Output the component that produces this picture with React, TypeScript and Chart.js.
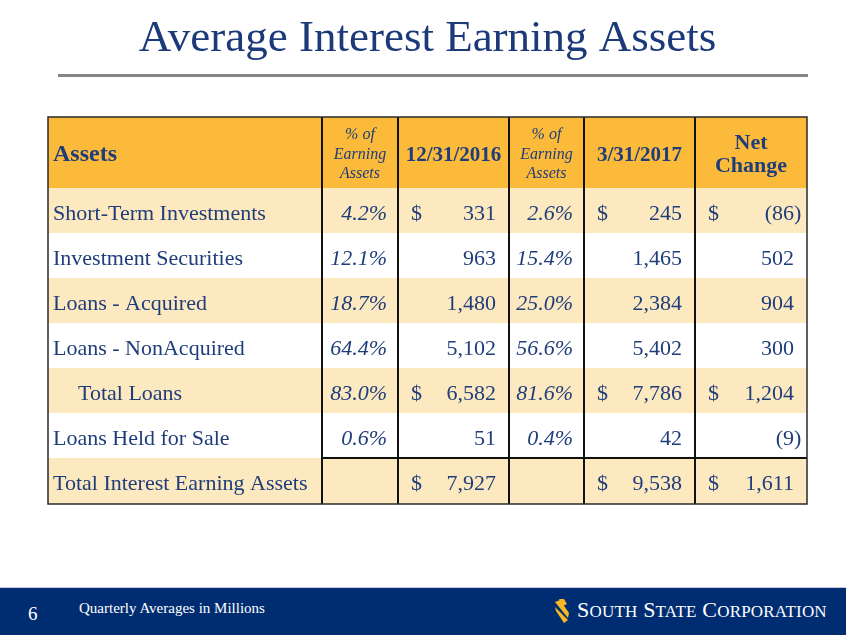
import React, { useEffect, useRef } from 'react';
import { Chart, registerables } from 'chart.js';

Chart.register(...registerables);

// ---------- data ----------
const titleText = 'Average Interest Earning Assets';
const columnHeaders = ['Assets', '% of\nEarning\nAssets', '12/31/2016', '% of\nEarning\nAssets', '3/31/2017', 'Net\nChange'];
const assetLabels = [
  'Short-Term Investments',
  'Investment Securities',
  'Loans - Acquired',
  'Loans - NonAcquired',
  'Total Loans',
  'Loans Held for Sale',
  'Total Interest Earning Assets',
];
const pct2016 = [4.2, 12.1, 18.7, 64.4, 83.0, 0.6, null];
const avg2016 = [331, 963, 1480, 5102, 6582, 51, 7927];
const pct2017 = [2.6, 15.4, 25.0, 56.6, 81.6, 0.4, null];
const avg2017 = [245, 1465, 2384, 5402, 7786, 42, 9538];
const netChange = [-86, 502, 904, 300, 1204, -9, 1611];
const dollarRows = [true, false, false, false, true, false, true];
const indentRows = [false, false, false, false, true, false, false];
const footnote = 'Quarterly Averages in Millions';
const pageNumber = '6';

// ---------- layout / style ----------
const COL_EDGES = [0, 274, 350, 461, 536, 647, 759];
const ROW_EDGES = [0, 71, 116, 161, 206, 251, 296, 341, 387];
const FONT = '"Liberation Serif", "Times New Roman", serif';
const TEXT = '#1f3d7b';
const ORANGE = '#fbba3a';
const CREAM = '#fde9bf';
const NAVY = '#002d72';

const fmtNum = (v: number) => Math.abs(v).toLocaleString('en-US');

const tablePlugin = {
  id: 'tablePlugin',
  afterDraw(chart: any) {
    const { ctx } = chart;
    const xs = chart.scales.x;
    const ys = chart.scales.y;
    const X = (v: number) => xs.getPixelForValue(v);
    const Y = (v: number) => ys.getPixelForValue(v);
    const nCols = COL_EDGES.length - 1;
    const L = X(COL_EDGES[0]);
    const R = X(COL_EDGES[nCols]);
    const T = Y(ROW_EDGES[0]);
    const B = Y(ROW_EDGES[ROW_EDGES.length - 1]);

    ctx.save();
    // backgrounds
    ctx.fillStyle = ORANGE;
    ctx.fillRect(L, T, R - L, Y(ROW_EDGES[1]) - T);
    assetLabels.forEach((_, i) => {
      const top = Y(ROW_EDGES[i + 1]);
      const bot = Y(ROW_EDGES[i + 2]);
      ctx.fillStyle = i % 2 === 0 ? CREAM : '#ffffff';
      ctx.fillRect(L, top, R - L, bot - top);
    });

    const font = (size: number, weight = 'normal', style = 'normal') =>
      `${style} ${weight} ${size}px ${FONT}`;
    const text = (s: string, x: number, y: number, align: CanvasTextAlign, f: string) => {
      ctx.font = f;
      ctx.textAlign = align;
      ctx.textBaseline = 'alphabetic';
      ctx.fillStyle = TEXT;
      ctx.fillText(s, x, y);
    };

    // header
    const hTop = Y(ROW_EDGES[0]);
    const colL = (c: number) => X(COL_EDGES[c]);
    const colR = (c: number) => X(COL_EDGES[c + 1]);
    const colC = (c: number) => (colL(c) + colR(c)) / 2;
    text(columnHeaders[0], colL(0) + 5, hTop + 44, 'left', font(24, 'bold'));
    [1, 3].forEach((c) => {
      columnHeaders[c].split('\n').forEach((line, k) => {
        text(line, colC(c), hTop + 22 + k * 19.5, 'center', font(16, 'normal', 'italic'));
      });
    });
    [2, 4].forEach((c) => {
      text(columnHeaders[c], colC(c), hTop + 43.5, 'center', font(21, 'bold'));
    });
    columnHeaders[5].split('\n').forEach((line, k) => {
      text(line, colC(5), hTop + 32 + k * 23, 'center', font(22, 'bold'));
    });

    // body rows
    const bodyFont = font(22);
    const pctFont = font(22, 'normal', 'italic');
    ctx.font = bodyFont;
    const parenW = ctx.measureText(')').width;
    assetLabels.forEach((label, i) => {
      const base = Y(ROW_EDGES[i + 1]) + 32;
      text(label, colL(0) + (indentRows[i] ? 30 : 5), base, 'left', bodyFont);
      const pcts = [pct2016[i], pct2017[i]];
      [1, 3].forEach((c, k) => {
        const p = pcts[k];
        if (p !== null && p !== undefined) text(p.toFixed(1) + '%', colR(c) - 11, base, 'right', pctFont);
      });
      const vals = [avg2016[i], avg2017[i], netChange[i]];
      [2, 4, 5].forEach((c, k) => {
        const v = vals[k];
        if (dollarRows[i]) text('$', colL(c) + 13, base, 'left', bodyFont);
        if (v < 0) text('(' + fmtNum(v) + ')', colR(c) - 13 + parenW, base, 'right', bodyFont);
        else text(fmtNum(v), colR(c) - 13, base, 'right', bodyFont);
      });
    });

    // grid lines
    ctx.strokeStyle = '#111111';
    ctx.lineWidth = 2;
    for (let c = 1; c < nCols; c++) {
      const x = Math.round(X(COL_EDGES[c]));
      ctx.beginPath();
      ctx.moveTo(x, T);
      ctx.lineTo(x, B);
      ctx.stroke();
    }
    const lastTop = Y(ROW_EDGES[ROW_EDGES.length - 2]);
    ctx.beginPath();
    ctx.moveTo(X(COL_EDGES[1]), lastTop);
    ctx.lineTo(R, lastTop);
    ctx.stroke();
    ctx.strokeStyle = '#2a2a2a';
    ctx.lineWidth = 1.5;
    ctx.strokeRect(L, T, R - L, B - T);
    ctx.restore();
  },
};

export default function App() {
  const canvasRef = useRef<HTMLCanvasElement>(null);

  useEffect(() => {
    if (!canvasRef.current) return;
    const chart = new Chart(canvasRef.current, {
      type: 'scatter',
      data: { datasets: [{ data: [] }] },
      options: {
        responsive: false,
        maintainAspectRatio: false,
        animation: false,
        events: [],
        layout: { padding: { left: 48, right: 39, top: 0, bottom: 131 } },
        scales: {
          x: { type: 'linear', min: COL_EDGES[0], max: COL_EDGES[COL_EDGES.length - 1], display: false },
          y: { type: 'linear', min: ROW_EDGES[0], max: ROW_EDGES[ROW_EDGES.length - 1], reverse: true, display: false },
        },
        plugins: {
          legend: { display: false },
          tooltip: { enabled: false },
          title: {
            display: true,
            text: titleText,
            color: '#1c3a7a',
            font: { family: FONT, size: 45, weight: 'normal', lineHeight: 1.2 },
            padding: { top: 12, bottom: 51 },
          },
        },
      },
      plugins: [tablePlugin],
    });
    return () => chart.destroy();
  }, []);

  return (
    <div style={{ position: 'absolute', left: 0, top: 0, width: 846, height: 635, background: '#ffffff', overflow: 'hidden' }}>
      <canvas ref={canvasRef} width={846} height={635} style={{ position: 'absolute', left: 0, top: 0, display: 'block' }} />
      <div style={{ position: 'absolute', left: 58, top: 74, width: 750, height: 3, background: '#858585' }} />
      <div style={{ position: 'absolute', left: 0, top: 587, width: 846, height: 1, background: '#c5cbdb' }} />
      <div style={{ position: 'absolute', left: 0, top: 588, width: 846, height: 47, background: NAVY }} />
      <div style={{ position: 'absolute', left: 28, top: 604, fontFamily: FONT, fontSize: 19, lineHeight: 1, color: '#ffffff' }}>{pageNumber}</div>
      <div style={{ position: 'absolute', left: 79, top: 601, fontFamily: FONT, fontSize: 15, lineHeight: 1, color: '#ffffff', whiteSpace: 'nowrap' }}>{footnote}</div>
      <svg style={{ position: 'absolute', left: 554, top: 599 }} width={16} height={24} viewBox="0 0 16 24">
        <path d="M5 0 L10 0 L13 5 L9 7 Z" fill="#f7b923" />
        <path d="M1 3 L6 1 L15 14 L14 19 Z" fill="#f7b923" />
        <path d="M1 8 L2 12 L10 24 L14 21 Z" fill="#f7b923" />
      </svg>
      <div style={{ position: 'absolute', left: 577, top: 599, fontFamily: FONT, fontSize: 22, lineHeight: '22px', color: '#ffffff', whiteSpace: 'nowrap', letterSpacing: 0.2 }}>
        <span>S</span><span style={{ fontSize: 17 }}>OUTH</span>{' '}
        <span>S</span><span style={{ fontSize: 17 }}>TATE</span>{' '}
        <span>C</span><span style={{ fontSize: 17 }}>ORPORATION</span>
      </div>
    </div>
  );
}
